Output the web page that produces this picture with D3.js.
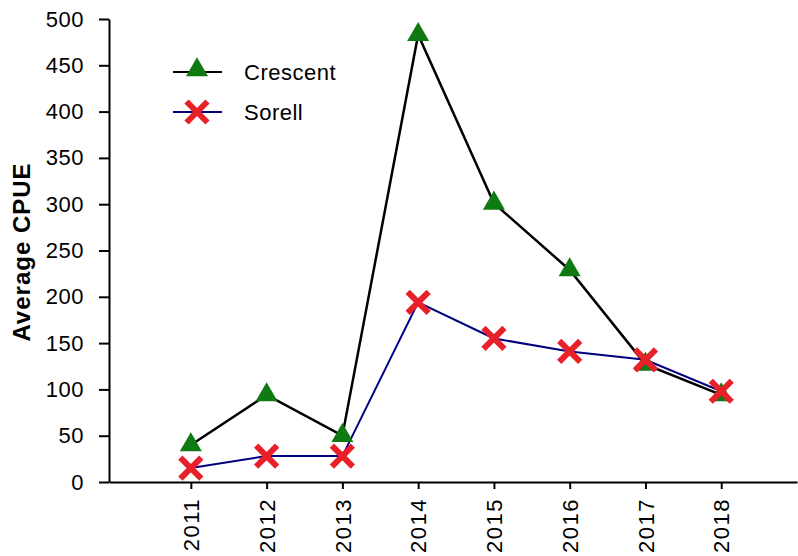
<!DOCTYPE html>
<html>
<head>
<meta charset="utf-8">
<script src="https://cdn.jsdelivr.net/npm/d3@7"></script>
<style>
  body { margin: 0; background: #fff; }
  text { font-family: "Liberation Sans", Arial, sans-serif; }
</style>
</head>
<body>
<div class="canvas"></div>
<script>
const years = [2011, 2012, 2013, 2014, 2015, 2016, 2017, 2018];
const crescent = [40, 94, 50, 483, 301, 229, 127, 94];
const sorell = [15, 28, 28, 194, 155, 141, 132, 98];
const yTicks = [0, 50, 100, 150, 200, 250, 300, 350, 400, 450, 500];

const width = 798;
const height = 556;

const svg = d3.select('.canvas')
  .append('svg')
  .attr('width', width)
  .attr('height', height);

// scales
const x = d3.scaleLinear().domain([2009.92, 2019]).range([109, 797]);
const y = d3.scaleLinear().domain([0, 500]).range([482, 19]);

// axes
const yAxis = d3.axisLeft(y)
  .tickValues(yTicks)
  .tickSize(10)
  .tickPadding(15)
  .tickSizeOuter(0);

const xAxis = d3.axisBottom(x)
  .tickValues(years)
  .tickFormat(d3.format('d'))
  .tickSize(7)
  .tickSizeOuter(0);

const yAxisGroup = svg.append('g')
  .attr('transform', 'translate(109,0)')
  .call(yAxis);

const xAxisGroup = svg.append('g')
  .attr('transform', 'translate(0,482)')
  .call(xAxis);

[xAxisGroup, yAxisGroup].forEach(g => {
  g.select('.domain').attr('stroke', '#000').attr('stroke-width', 2);
  g.selectAll('.tick line').attr('stroke', '#000').attr('stroke-width', 2);
  g.selectAll('text').attr('fill', '#000').attr('font-size', 22)
    .attr('letter-spacing', 0.5)
    .attr('font-family', '"Liberation Sans", Arial, sans-serif');
});

// rotate year labels
xAxisGroup.selectAll('text')
  .attr('transform', 'rotate(-90)')
  .attr('text-anchor', 'end')
  .attr('x', -16)
  .attr('y', 0)
  .attr('dy', '0.35em')
  .attr('letter-spacing', 1.5);

// y axis title
svg.append('text')
  .attr('transform', 'translate(30,252) rotate(-90)')
  .attr('text-anchor', 'middle')
  .attr('font-size', 24)
  .attr('font-weight', 'bold')
  .attr('letter-spacing', 1)
  .attr('fill', '#000')
  .text('Average CPUE');

// lines
const line = d3.line()
  .x((d, i) => x(years[i]))
  .y(d => y(d));

svg.append('path')
  .datum(sorell)
  .attr('fill', 'none')
  .attr('stroke', '#000080')
  .attr('stroke-width', 2)
  .attr('d', line);

svg.append('path')
  .datum(crescent)
  .attr('fill', 'none')
  .attr('stroke', '#000')
  .attr('stroke-width', 2.5)
  .attr('d', line);

// markers
const triangle = d3.symbol().type(d3.symbolTriangle).size(210);
const cross = 'M-10.5,-10.5L10.5,10.5M10.5,-10.5L-10.5,10.5';

svg.append('g').selectAll('path')
  .data(crescent)
  .enter()
  .append('path')
  .attr('d', triangle)
  .attr('fill', '#0f7a12')
  .attr('transform', (d, i) => `translate(${x(years[i])},${y(d)})`);

svg.append('g').selectAll('path')
  .data(sorell)
  .enter()
  .append('path')
  .attr('d', cross)
  .attr('stroke', '#e8202a')
  .attr('stroke-width', 6)
  .attr('fill', 'none')
  .attr('transform', (d, i) => `translate(${x(years[i])},${y(d)})`);

// legend
const legend = svg.append('g');
const items = [
  { name: 'Crescent', color: '#000', y: 72 },
  { name: 'Sorell', color: '#000080', y: 112 }
];

items.forEach((item, i) => {
  legend.append('line')
    .attr('x1', 173).attr('x2', 222)
    .attr('y1', item.y).attr('y2', item.y)
    .attr('stroke', item.color)
    .attr('stroke-width', 2);
  if (i == 0) {
    legend.append('path')
      .attr('d', triangle)
      .attr('fill', '#0f7a12')
      .attr('transform', `translate(197,${item.y - 2})`);
  } else {
    legend.append('path')
      .attr('d', cross)
      .attr('stroke', '#e8202a')
      .attr('stroke-width', 6)
      .attr('transform', `translate(197,${item.y})`);
  }
  legend.append('text')
    .attr('x', 244)
    .attr('y', item.y)
    .attr('dy', '0.35em')
    .attr('font-size', 22)
    .attr('letter-spacing', 0.5)
    .attr('fill', '#000')
    .text(item.name);
});
</script>
</body>
</html>
